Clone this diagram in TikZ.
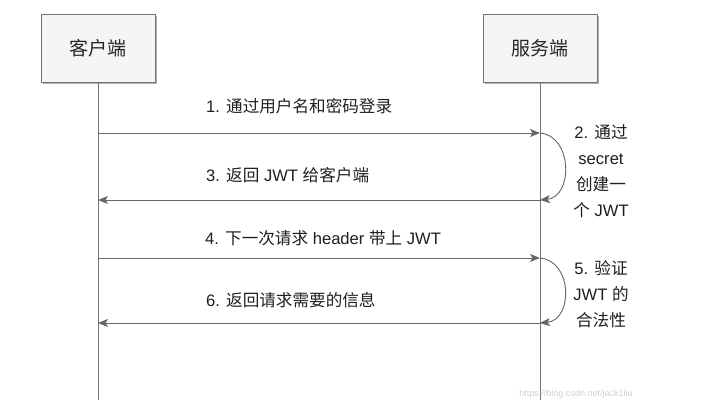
\documentclass[tikz,border=0pt]{standalone}
\usepackage{fontspec}
\setmainfont{Liberation Sans}
\newfontfamily\cjk{Noto Sans CJK SC}
\newcommand{\zh}[1]{{\cjk #1}}
\usetikzlibrary{arrows.meta,shadows}
\begin{document}
\begin{tikzpicture}[x=1pt,y=-1pt,
  actor/.style={draw=black!55, fill=black!4, minimum width=114pt, minimum height=68pt,
    font=\fontsize{19}{21}\selectfont\cjk, text=black!85,
    drop shadow={shadow xshift=1.5pt, shadow yshift=-1.5pt, fill=black!30, opacity=1}},
  life/.style={draw=black!55, line width=0.9pt},
  msg/.style={draw=black!60, line width=0.9pt, -{Stealth[length=10pt,width=8pt,inset=2.5pt]}},
  lbl/.style={anchor=west, inner sep=0pt, font=\fontsize{16.6}{18}\selectfont, text=black!88},
  note/.style={align=center, inner sep=0pt, font=\fontsize{16.6}{26}\selectfont, text=black!88},
  wmark/.style={inner sep=0pt, font=\fontsize{9}{10}\selectfont, text=black!18}]
\useasboundingbox (0,0) rectangle (706,418);
\fill[white] (0,0) rectangle (706,418);
% actors
\node[actor] (c) at (98,48) {客户端};
\node[actor] (s) at (540,48) {服务端};
\coordinate (cEnd) at (98,400);
\coordinate (sEnd) at (540,400);
\draw[life] (c.south) -- (cEnd);
\draw[life] (s.south) -- (sEnd);
% message points
\coordinate (c1) at (98,133);  \coordinate (s1) at (540,133);
\coordinate (c3) at (98,200);  \coordinate (s3) at (540,200);
\coordinate (c4) at (98,258);  \coordinate (s4) at (540,258);
\coordinate (c6) at (98,323);  \coordinate (s6) at (540,323);
% messages
\draw[msg] (c1) -- (s1);
\draw[msg] (s3) -- (c3);
\draw[msg] (c4) -- (s4);
\draw[msg] (s6) -- (c6);
% self arcs
\draw[msg] (s1) .. controls (573,136) and (573,197) .. (s3);
\draw[msg] (s4) .. controls (573,261) and (573,320) .. (s6);
% labels
\node[lbl] (l1) at (206,106) {1. \zh{通过用户名和密码登录}};
\node[lbl] (l3) at (206,175) {3. \zh{返回} JWT \zh{给客户端}};
\node[lbl] (l4) at (205,238) {4. \zh{下一次请求} header \zh{带上} JWT};
\node[lbl] (l6) at (206,300) {6. \zh{返回请求需要的信息}};
\node[note] (n2) at (601,171) {2. \zh{通过}\\secret\\\zh{创建一}\\\zh{个} JWT};
\node[note] (n5) at (601,294) {5. \zh{验证}\\JWT \zh{的}\\\zh{合法性}};
\node[wmark] (wm) at (576,394) {https://blog.csdn.net/jack1liu};
\end{tikzpicture}
\end{document}
